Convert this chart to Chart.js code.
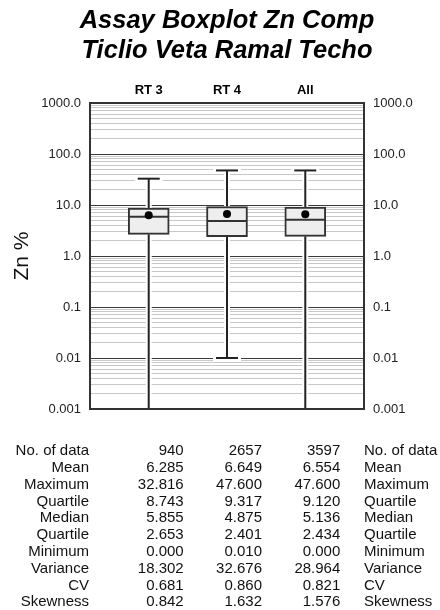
<!DOCTYPE html>
<html>
<head>
<meta charset="utf-8">
<script src="https://cdn.jsdelivr.net/npm/chart.js@4.4.1/dist/chart.umd.min.js"></script>
<style>
  html, body { margin: 0; padding: 0; background: #fff; }
  #wrap { width: 440px; height: 610px; }
</style>
</head>
<body>
<div id="wrap"><canvas id="boxChart" width="440" height="610"></canvas></div>
<script>
// chart data
const titleLines = ['Assay Boxplot Zn Comp', 'Ticlio Veta Ramal Techo'];
const categories = ['RT 3', 'RT 4', 'All'];
const count = [940, 2657, 3597];
const mean = [6.285, 6.649, 6.554];
const maximum = [32.816, 47.600, 47.600];
const upperQuartile = [8.743, 9.317, 9.120];
const median = [5.855, 4.875, 5.136];
const lowerQuartile = [2.653, 2.401, 2.434];
const minimum = [0.000, 0.010, 0.000];
const variance = [18.302, 32.676, 28.964];
const cv = [0.681, 0.860, 0.821];
const skewness = [0.842, 1.632, 1.576];

const yMajorTicks = [0.001, 0.01, 0.1, 1, 10, 100, 1000];
const yTickLabels = ['0.001', '0.01', '0.1', '1.0', '10.0', '100.0', '1000.0'];

const statLabels = ['No. of data', 'Mean', 'Maximum', 'Quartile', 'Median',
                    'Quartile', 'Minimum', 'Variance', 'CV', 'Skewness'];
const statValues = [count, mean, maximum, upperQuartile, median,
                    lowerQuartile, minimum, variance, cv, skewness];

const FONT = "'Liberation Sans', Arial, Helvetica, sans-serif";
Chart.defaults.font.family = FONT;
Chart.defaults.color = '#111';

function isMajor(v) {
    const l = Math.log10(v);
    return Math.abs(l - Math.round(l)) < 1e-9;
}

// 1..9 per decade between the labelled decades
function buildLogTicks(scale) {
    const ticks = [];
    for (let d = 0; d < yMajorTicks.length - 1; d++) {
        for (let m = 1; m < 10; m++) ticks.push({ value: yMajorTicks[d] * m });
    }
    ticks.push({ value: yMajorTicks[yMajorTicks.length - 1] });
    scale.ticks = ticks;
}

function tickLabel(value) {
    if (!isMajor(value)) return '';
    const idx = yMajorTicks.findIndex(t => Math.abs(Math.log10(t) - Math.log10(value)) < 1e-9);
    return idx >= 0 ? yTickLabels[idx] : '';
}

const whiskerPlugin = {
    id: 'whiskers',
    beforeDatasetsDraw(chart) {
        const { ctx, chartArea, scales: { x, y } } = chart;
        ctx.save();
        ctx.beginPath();
        ctx.rect(chartArea.left, chartArea.top, chartArea.right - chartArea.left, chartArea.bottom - chartArea.top);
        ctx.clip();
        categories.forEach((c, i) => {
            const px = x.getPixelForValue(i);
            const yMax = y.getPixelForValue(maximum[i]);
            const yQ3 = y.getPixelForValue(upperQuartile[i]);
            const yQ1 = y.getPixelForValue(lowerQuartile[i]);
            const hasMin = minimum[i] > y.min;
            const yMin = hasMin ? y.getPixelForValue(minimum[i]) : chartArea.bottom;
            const segs = [[px, yQ3, px, yMax], [px, yQ1, px, yMin], [px - 11, yMax, px + 11, yMax]];
            if (hasMin) segs.push([px - 11, yMin, px + 11, yMin]);
            // white casing cuts the grid lines around the whiskers
            ctx.strokeStyle = '#fff';
            ctx.lineWidth = 6;
            ctx.lineCap = 'square';
            segs.forEach(s => { ctx.beginPath(); ctx.moveTo(s[0], s[1]); ctx.lineTo(s[2], s[3]); ctx.stroke(); });
            ctx.strokeStyle = '#222';
            ctx.lineWidth = 2;
            ctx.lineCap = 'butt';
            segs.forEach(s => { ctx.beginPath(); ctx.moveTo(s[0], s[1]); ctx.lineTo(s[2], s[3]); ctx.stroke(); });
        });
        ctx.restore();
    },
    afterDraw(chart) {
        const { ctx, chartArea, scales: { x } } = chart;
        ctx.save();
        ctx.strokeStyle = '#333';
        ctx.lineWidth = 2;
        ctx.strokeRect(chartArea.left, chartArea.top, chartArea.right - chartArea.left, chartArea.bottom - chartArea.top);

        // title, centred over the plot frame
        const cx = (chartArea.left + chartArea.right) / 2;
        ctx.font = 'italic bold 25.5px ' + FONT;
        ctx.fillStyle = '#000';
        ctx.textAlign = 'center';
        ctx.textBaseline = 'middle';
        titleLines.forEach((t, k) => ctx.fillText(t, cx, 20.5 + k * 30));

        // statistics table
        ctx.font = '15px ' + FONT;
        ctx.fillStyle = '#111';
        statLabels.forEach((label, r) => {
            const ry = chartArea.bottom + 42 + r * 16.8;
            ctx.textAlign = 'right';
            ctx.fillText(label, chartArea.left - 1, ry);
            statValues[r].forEach((v, i) => {
                const txt = r === 0 ? String(v) : v.toFixed(3);
                ctx.fillText(txt, x.getPixelForValue(i) + 35, ry);
            });
            ctx.textAlign = 'left';
            ctx.fillText(label, chartArea.right, ry);
        });
        ctx.restore();
    }
};

const yTicksCommon = {
    autoSkip: false,
    padding: 9,
    color: '#222',
    font: { size: 13 },
    callback: (v) => tickLabel(v)
};

new Chart(document.getElementById('boxChart'), {
    type: 'bar',
    data: {
        datasets: [{
            type: 'scatter',
            label: 'Mean',
            data: categories.map((c, i) => ({ x: i, y: mean[i] })),
            pointRadius: 4,
            pointBackgroundColor: '#000',
            pointBorderWidth: 0,
            order: 1
        }, {
            type: 'scatter',
            label: 'Median',
            data: categories.map((c, i) => ({ x: i, y: median[i] })),
            pointStyle: 'line',
            pointRadius: 20,
            pointBorderColor: '#333',
            pointBorderWidth: 2,
            order: 2
        }, {
            type: 'bar',
            label: 'Quartiles',
            data: categories.map((c, i) => ({ x: i, y: [lowerQuartile[i], upperQuartile[i]] })),
            backgroundColor: '#eeeeee',
            borderColor: '#333',
            borderWidth: 2,
            borderSkipped: false,
            barThickness: 41,
            order: 3
        }]
    },
    options: {
        responsive: false,
        animation: false,
        events: [],
        layout: { padding: { left: 0, right: 0, top: 65.8, bottom: 201 } },
        plugins: {
            legend: { display: false },
            tooltip: { enabled: false },
            title: { display: false }
        },
        scales: {
            x: {
                type: 'linear',
                position: 'top',
                offset: false,
                min: -0.75,
                max: 2.75,
                afterBuildTicks: (scale) => { scale.ticks = categories.map((c, i) => ({ value: i })); },
                afterFit: (scale) => { scale.height = 37.2; },
                ticks: {
                    padding: 5,
                    color: '#000',
                    font: { size: 13, weight: 'bold' },
                    callback: (v) => categories[v]
                },
                grid: { display: false, drawTicks: false, offset: false },
                border: { display: false }
            },
            y: {
                type: 'logarithmic',
                position: 'left',
                min: 0.001,
                max: 1000,
                afterBuildTicks: buildLogTicks,
                afterFit: (scale) => { scale.width = 90; },
                ticks: yTicksCommon,
                grid: {
                    drawTicks: false,
                    lineWidth: 1,
                    color: (ctx) => (ctx.tick && isMajor(ctx.tick.value)) ? '#3a3a3a' : '#c8c8c8'
                },
                border: { display: false },
                title: {
                    display: true,
                    text: 'Zn %',
                    color: '#111',
                    font: { size: 21 },
                    padding: { top: 10, bottom: 0 }
                }
            },
            y2: {
                type: 'logarithmic',
                position: 'right',
                min: 0.001,
                max: 1000,
                afterBuildTicks: buildLogTicks,
                afterFit: (scale) => { scale.width = 76; },
                ticks: yTicksCommon,
                grid: { display: false, drawTicks: false },
                border: { display: false }
            }
        }
    },
    plugins: [whiskerPlugin]
});
</script>
</body>
</html>
